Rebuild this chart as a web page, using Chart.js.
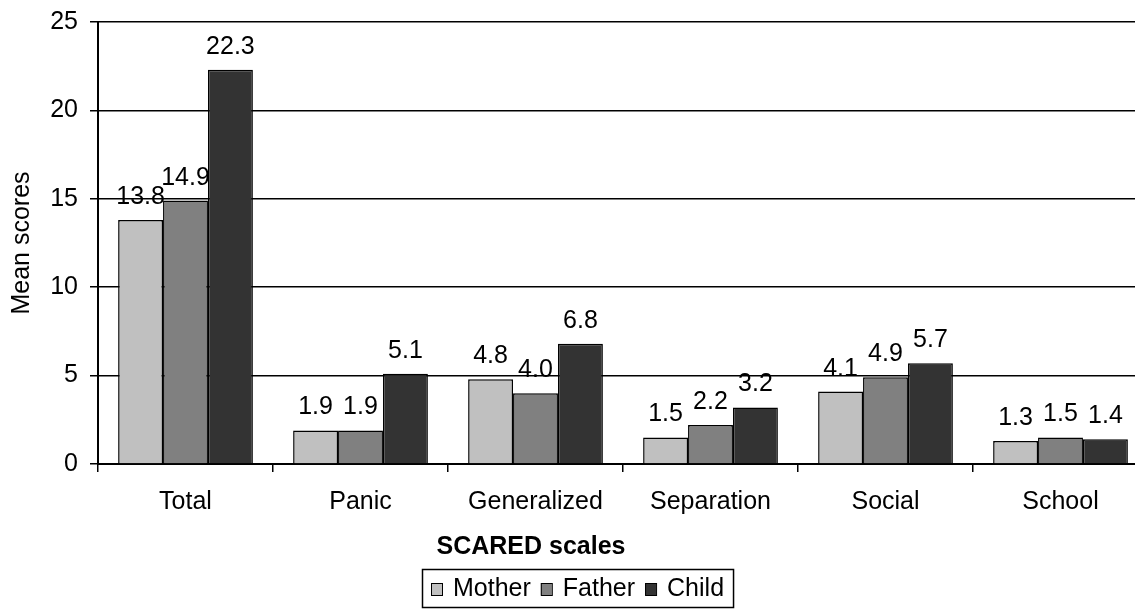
<!DOCTYPE html>
<html>
<head>
<meta charset="utf-8">
<script src="https://cdn.jsdelivr.net/npm/chart.js@4.4.1/dist/chart.umd.min.js"></script>
<style>
  html, body { margin: 0; padding: 0; background: #fff; overflow: hidden; }
</style>
</head>
<body>
<canvas id="scaredChart" width="1150" height="609"></canvas>
<script>
// data
const scales = ['Total', 'Panic', 'Generalized', 'Separation', 'Social', 'School'];
const mother = [13.8, 1.9, 4.8, 1.5, 4.1, 1.3];
const father = [14.9, 1.9, 4.0, 2.2, 4.9, 1.5];
const child = [22.3, 5.1, 6.8, 3.2, 5.7, 1.4];

const FONT = 'Arial, "Liberation Sans", sans-serif';

// value labels above the bars
const barLabels = {
    id: 'barLabels',
    afterDatasetsDraw(chart) {
        const ctx = chart.ctx;
        ctx.save();
        ctx.font = '25px ' + FONT;
        ctx.fillStyle = '#000';
        ctx.textAlign = 'center';
        ctx.textBaseline = 'alphabetic';
        chart.data.datasets.forEach((ds, i) => {
            chart.getDatasetMeta(i).data.forEach((bar, j) => {
                ctx.fillText(ds.data[j].toFixed(1), bar.x, bar.y - 16);
            });
        });
        ctx.restore();
    }
};

// x title + boxed legend at the bottom
const bottomBits = {
    id: 'bottomBits',
    afterDraw(chart) {
        const ctx = chart.ctx;
        ctx.save();
        ctx.fillStyle = '#000';
        ctx.font = 'bold 25px ' + FONT;
        ctx.textAlign = 'center';
        ctx.textBaseline = 'middle';
        ctx.fillText('SCARED scales', 531, 547);

        ctx.font = '25px ' + FONT;
        ctx.textAlign = 'left';
        const box = 11, gap = 11, sep = 10, pad = 9;
        const items = chart.data.datasets.map(d => ({ label: d.label, color: d.backgroundColor }));
        let total = pad;
        items.forEach((it, k) => {
            it.w = ctx.measureText(it.label).width;
            total += box + gap + it.w + (k < items.length - 1 ? sep : 0);
        });
        total += pad;
        const left = 422, top = 569, h = 38;
        ctx.strokeStyle = '#000';
        ctx.lineWidth = 1.5;
        ctx.strokeRect(left + 0.5, top + 0.5, total, h);
        let x = left + pad;
        const cy = top + h / 2 + 1;
        items.forEach(it => {
            ctx.fillStyle = it.color;
            ctx.fillRect(x, cy - 6, box, box + 1);
            ctx.lineWidth = 1;
            ctx.strokeRect(x + 0.5, cy - 6 + 0.5, box, box + 1);
            ctx.fillStyle = '#000';
            ctx.fillText(it.label, x + box + gap, cy);
            x += box + gap + it.w + sep;
        });
        ctx.restore();
    }
};

new Chart(document.getElementById('scaredChart'), {
    type: 'bar',
    data: {
        labels: scales,
        datasets: [
            { label: 'Mother', data: mother, backgroundColor: '#c0c0c0' },
            { label: 'Father', data: father, backgroundColor: '#808080' },
            { label: 'Child', data: child, backgroundColor: '#333333' }
        ].map(d => Object.assign(d, {
            borderColor: '#000', borderWidth: 1.5,
            barPercentage: 1, categoryPercentage: 0.77
        }))
    },
    options: {
        responsive: false,
        animation: false,
        devicePixelRatio: 1,
        layout: { padding: { top: 22, bottom: 45, left: 0, right: 2 } },
        plugins: {
            legend: { display: false },
            tooltip: { enabled: false }
        },
        scales: {
            x: {
                grid: { drawOnChartArea: false, drawTicks: true, tickLength: 8, color: '#000', lineWidth: 1.5 },
                border: { display: true, color: '#000', width: 2 },
                ticks: { color: '#000', font: { family: FONT, size: 25 }, padding: 15, maxRotation: 0 },
                afterFit(s) { s.height = 100; s.paddingLeft = 0; s.paddingRight = 0; }
            },
            y: {
                min: 0, max: 25,
                ticks: { stepSize: 5, color: '#000', font: { family: FONT, size: 25 }, padding: 12 },
                grid: { color: '#000', lineWidth: 1.5, tickLength: 8 },
                border: { display: true, color: '#000', width: 2 },
                title: { display: true, text: 'Mean scores', color: '#000', font: { family: FONT, size: 25 }, padding: { top: 7, bottom: 0 } },
                afterFit(s) { s.width = 98; s.paddingTop = 0; s.paddingBottom = 0; }
            }
        }
    },
    plugins: [barLabels, bottomBits]
});
</script>
</body>
</html>
